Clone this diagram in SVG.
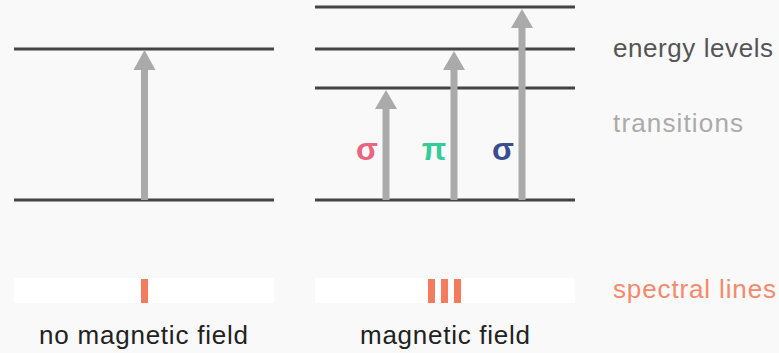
<svg xmlns="http://www.w3.org/2000/svg" width="779" height="353" viewBox="0 0 779 353">
<defs>
<style>
.lvl{stroke:#444;stroke-width:3;fill:none}
.shaft{stroke:#aaa;stroke-width:7;fill:none}
.head{fill:#aaa}
.bar{fill:#fff}
.line{fill:#f47c5e}
.t{font-family:"Liberation Sans",Arial,sans-serif;font-size:26px}
.g{font-family:"Liberation Sans",Arial,sans-serif;font-size:32px;font-weight:bold}
</style>
</defs>
<rect width="779" height="353" fill="#f9f9f9"/>
<g id="levels-left">
<line class="lvl" x1="14" y1="49" x2="274" y2="49"/>
<line class="lvl" x1="14" y1="200" x2="274" y2="200"/>
</g>
<g id="levels-right">
<line class="lvl" x1="315" y1="7" x2="575" y2="7"/>
<line class="lvl" x1="315" y1="49" x2="575" y2="49"/>
<line class="lvl" x1="315" y1="88" x2="575" y2="88"/>
<line class="lvl" x1="315" y1="200" x2="575" y2="200"/>
</g>
<g id="connectors">
<line class="shaft" x1="144.5" y1="200" x2="144.5" y2="68"/>
<polygon class="head" points="144.5,50 133.5,70 155.5,70"/>
<line class="shaft" x1="386" y1="200" x2="386" y2="107"/>
<polygon class="head" points="386,90 375,109 397,109"/>
<line class="shaft" x1="454" y1="200" x2="454" y2="68"/>
<polygon class="head" points="454,51 443,70 465,70"/>
<line class="shaft" x1="522" y1="200" x2="522" y2="27"/>
<polygon class="head" points="522,9 511,28 533,28"/>
</g>
<g id="symbols">
<text class="g" x="367" y="160" text-anchor="middle" fill="#e8647f">σ</text>
<text class="g" x="434" y="160" text-anchor="middle" fill="#35cc9a">π</text>
<text class="g" x="503" y="160" text-anchor="middle" fill="#3b4d8c">σ</text>
</g>
<g id="spectrum-left">
<rect class="bar" x="14" y="278" width="260" height="25"/>
<rect class="line" x="141" y="279" width="7" height="24"/>
</g>
<g id="spectrum-right">
<rect class="bar" x="315" y="278" width="260" height="25"/>
<rect class="line" x="428" y="279" width="7" height="24"/>
<rect class="line" x="441" y="279" width="7" height="24"/>
<rect class="line" x="454" y="279" width="7" height="24"/>
</g>
<g id="labels">
<text class="t" x="613" y="57" fill="#555" textLength="160">energy levels</text>
<text class="t" x="613" y="132" fill="#aaa" textLength="130">transitions</text>
<text class="t" x="613" y="298" fill="#f4896b" textLength="163">spectral lines</text>
<text class="t" x="39" y="344" fill="#222" textLength="209">no magnetic field</text>
<text class="t" x="360" y="344" fill="#222" textLength="170">magnetic field</text>
</g>
</svg>
